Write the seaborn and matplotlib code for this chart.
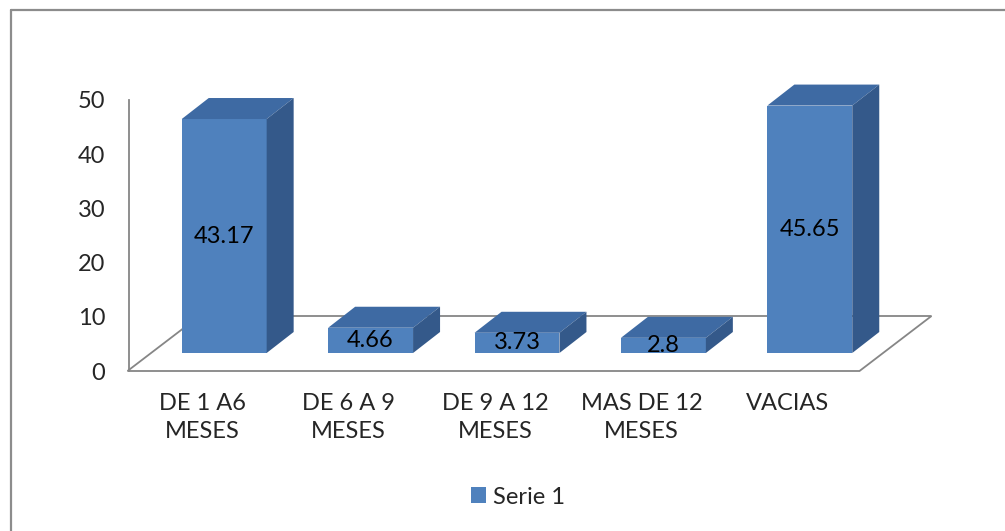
import matplotlib
matplotlib.use("Agg")
import matplotlib.pyplot as plt
from matplotlib.patches import Polygon, Patch
from matplotlib.lines import Line2D
import seaborn as sns
import pandas as pd

categorias = ["DE 1 A6\nMESES", "DE 6 A 9\nMESES", "DE 9 A 12\nMESES", "MAS DE 12\nMESES", "VACIAS"]
valores = [43.17, 4.66, 3.73, 2.8, 45.65]
serie = "Serie 1"
y_ticks = [0, 10, 20, 30, 40, 50]

sns.set_style("white")
plt.rcParams["font.family"] = ["Lato", "DejaVu Sans"]

W, H = 1005, 531
fig = plt.figure(figsize=(W / 100, H / 100), dpi=100)

azul = "#4f81bd"
azul_top = "#3e6aa3"
azul_lado = "#34598a"
gris = "#868686"
fs = 17

# plano de las barras y plano del eje (desplazado hacia el frente)
ax = fig.add_axes([151 / W, (H - 353) / H, 732 / W, 271 / H])
ax2 = fig.add_axes([129 / W, (H - 371) / H, 732 / W, 271 / H])
ax.set_zorder(2)
ax2.set_zorder(1)

df = pd.DataFrame({"cat": categorias, "val": valores})
sns.barplot(data=df, x="cat", y="val", color=azul, width=0.58, linewidth=0,
            saturation=1, ax=ax, zorder=3)
ax.set_xlim(-0.5, 4.5)
ax.set_ylim(0, 50)
ax.axis("off")
ax.patch.set_alpha(0)

px_x = ax.bbox.width / 5
px_y = ax.bbox.height / 50


def off(px, py):
    return px / px_x, py / px_y


# caras superior y lateral
dx, dy = off(27, 21)
for p in ax.patches:
    x0 = p.get_x()
    x1 = x0 + p.get_width()
    h = p.get_height()
    top = Polygon([(x0, h), (x1, h), (x1 + dx, h + dy), (x0 + dx, h + dy)],
                  closed=True, facecolor=azul_top, edgecolor="none", zorder=3, clip_on=False)
    lado = Polygon([(x1, 0), (x1 + dx, dy), (x1 + dx, h + dy), (x1, h)],
                   closed=True, facecolor=azul_lado, edgecolor="none", zorder=3, clip_on=False)
    ax.add_patch(top)
    ax.add_patch(lado)
    ax.text(x0 + p.get_width() / 2, h / 2, f"{h:g}", ha="center", va="center",
            fontsize=fs, color="black", zorder=5)

# piso
fx, fy = off(-23.5, -18)
bx, by = off(48.5, 37)
piso = Polygon([(-0.5 + fx, fy), (4.5 + fx, fy), (4.5 + bx, by), (-0.5 + bx, by)],
               closed=True, fill=False, edgecolor=gris, linewidth=1.3, zorder=1, clip_on=False)
ax.add_patch(piso)

# eje
ax2.set_xlim(-0.5, 4.5)
ax2.set_ylim(0, 50)
ax2.patch.set_alpha(0)
for s in ["top", "right", "bottom"]:
    ax2.spines[s].set_visible(False)
ax2.spines["left"].set_color(gris)
ax2.spines["left"].set_linewidth(1.3)
ax2.set_yticks(y_ticks)
ax2.set_xticks(range(len(categorias)))
ax2.set_xticklabels(categorias, linespacing=1.4)
ax2.tick_params(axis="y", length=0, pad=17, labelsize=fs)
ax2.tick_params(axis="x", length=0, pad=16, labelsize=fs)

# leyenda
fig.legend(handles=[Patch(facecolor=azul, edgecolor="none", label=serie)],
           loc="center", bbox_to_anchor=(518 / W, 1 - 497 / H), frameon=False,
           fontsize=fs, handlelength=0.65, handleheight=0.65, handletextpad=0.3)

# borde
fig.add_artist(Line2D([10.5 / W, 10.5 / W], [0, 1 - 9.5 / H], color="#8c8c8c", linewidth=1.6))
fig.add_artist(Line2D([10.5 / W, 1], [1 - 9.5 / H, 1 - 9.5 / H], color="#8c8c8c", linewidth=1.6))

fig.savefig("out.png", dpi=100)
